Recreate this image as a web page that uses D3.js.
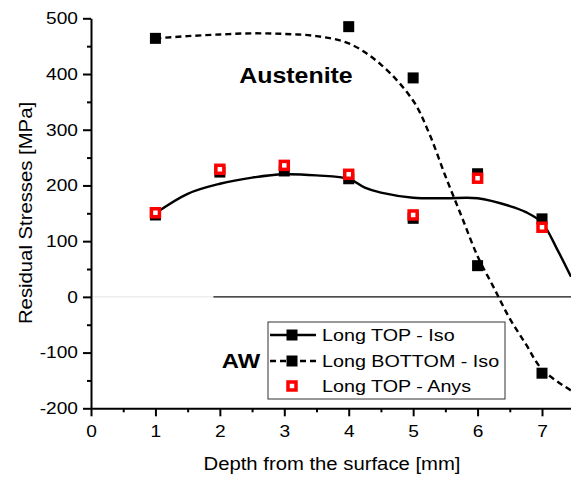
<!DOCTYPE html>
<html>
<head>
<meta charset="utf-8">
<script src="https://cdn.jsdelivr.net/npm/d3@7"></script>
<style>
  html, body { margin: 0; padding: 0; background: #fff; }
  svg { display: block; }
  text { font-family: "Liberation Sans", Arial, sans-serif; fill: #000; }
</style>
</head>
<body>
<svg id="chart" width="571" height="477"></svg>
<script>
// ---- data ----
const depths = [1, 2, 3, 4, 5, 6, 7];
const topIso = [147, 224, 226, 212, 141, 221, 140];
const bottomIso = [464, null, null, 485, 393, 56, -137];
const topAnys = [151, 229, 236, 220, 147, 213, 125];

// smoothed fit curves
const topFitDepth = [1, 1.5, 2, 2.5, 3, 3.5, 4, 4.25, 4.5, 5, 5.5, 6, 6.5, 6.75, 7, 7.25, 7.45];
const topFitValue = [150, 185, 203, 214, 220, 218, 212, 196, 187, 178, 177, 177, 163, 152, 133, 82, 36];
const botFitDepth = [1, 1.5, 2, 2.5, 3, 3.5, 4, 4.5, 5, 5.25, 5.5, 5.75, 6, 6.25, 6.5, 6.75, 7, 7.45];
const botFitValue = [464, 468, 471, 473, 472, 468, 455, 417, 352, 293, 217, 145, 73, 17, -39, -85, -130, -168];

const xTicks = [0, 1, 2, 3, 4, 5, 6, 7];
const xMinorTicks = [0.5, 1.5, 2.5, 3.5, 4.5, 5.5, 6.5, 7.5];
const yTicks = [-200, -100, 0, 100, 200, 300, 400, 500];
const yMinorTicks = [-150, -50, 50, 150, 250, 350, 450];
const legendLabels = ["Long TOP - Iso", "Long BOTTOM - Iso", "Long TOP - Anys"];
const xTitle = "Depth from the surface [mm]";
const yTitle = "Residual Stresses [MPa]";
const annotations = [{text: "Austenite", depth: 2.3, value: 383}, {text: "AW", depth: 2.03, value: -127}];

// ---- layout ----
const SX = 1.16; // horizontal stretch of the lettering
const svg = d3.select("#chart");
const x = d3.scaleLinear().domain([0, 7.45]).range([91, 571]);
const y = d3.scaleLinear().domain([-200, 500]).range([408.3, 18.3]);

function label(g, px, py, str, size, anchor, weight, rotate) {
  const t = g.append("text")
    .attr("transform", `translate(${px},${py})` + (rotate ? ` rotate(${rotate})` : "") + ` scale(${SX},1)`)
    .attr("text-anchor", anchor || "start")
    .style("font-size", size + "px")
    .style("font-weight", weight || "normal")
    .text(str);
  return t;
}

// zero reference line
svg.append("line")
  .attr("x1", x(0)).attr("x2", x(1.9)).attr("y1", y(0)).attr("y2", y(0))
  .attr("stroke", "#e4e4e4").attr("stroke-width", 1);
svg.append("line")
  .attr("x1", x(1.9)).attr("x2", x(7.45)).attr("y1", y(0)).attr("y2", y(0))
  .attr("stroke", "#111").attr("stroke-width", 1.2);

// axes
const yAxis = svg.append("g").attr("transform", `translate(${x(0)},0)`)
  .call(d3.axisLeft(y).tickValues(yTicks).tickSize(8).tickSizeOuter(0).tickPadding(5).tickFormat(d => String(d)));
const yMinor = svg.append("g").attr("transform", `translate(${x(0)},0)`)
  .call(d3.axisLeft(y).tickValues(yMinorTicks).tickSize(4).tickSizeOuter(0).tickFormat(""));
const xAxis = svg.append("g").attr("transform", `translate(0,${y(-200)})`)
  .call(d3.axisBottom(x).tickValues(xTicks).tickSize(8).tickSizeOuter(0).tickPadding(9).tickFormat(d => String(d)));
const xMinor = svg.append("g").attr("transform", `translate(0,${y(-200)})`)
  .call(d3.axisBottom(x).tickValues(xMinorTicks.filter(v => v <= 7.45)).tickSize(4).tickSizeOuter(0).tickFormat(""));

[yAxis, yMinor, xAxis, xMinor].forEach(g => {
  g.select(".domain").attr("stroke", "#000").attr("stroke-width", 2);
  g.selectAll(".tick line").attr("stroke", "#000").attr("stroke-width", 2);
});
yMinor.select(".domain").remove();
xMinor.select(".domain").remove();
yAxis.selectAll(".tick text")
  .style("font-size", "16.5px").style("font-family", "Liberation Sans, Arial, sans-serif").attr("fill", "#000")
  .attr("x", -13 / SX).attr("transform", `scale(${SX},1)`);
xAxis.selectAll(".tick text")
  .style("font-size", "16.5px").style("font-family", "Liberation Sans, Arial, sans-serif").attr("fill", "#000")
  .attr("transform", `scale(${SX},1)`)
  .attr("x", function () { return 0; });

// axis titles
label(svg, 332, 470, xTitle, 17.5, "middle");
label(svg, 32, 213, yTitle, 17.5, "middle", "normal", -90);

// fitted curves
const line = d3.line().x(d => x(d[0])).y(d => y(d[1])).curve(d3.curveCatmullRom.alpha(0.5));
svg.append("path")
  .datum(botFitDepth.map((d, i) => [d, botFitValue[i]]))
  .attr("d", line).attr("fill", "none").attr("stroke", "#000")
  .attr("stroke-width", 2.4).attr("stroke-dasharray", "6,4");
svg.append("path")
  .datum(topFitDepth.map((d, i) => [d, topFitValue[i]]))
  .attr("d", line).attr("fill", "none").attr("stroke", "#000").attr("stroke-width", 2.4);

// markers
const S = 11;
svg.append("g").selectAll("rect")
  .data(depths.map((d, i) => [d, bottomIso[i]]).filter(d => d[1] !== null))
  .join("rect")
  .attr("x", d => x(d[0]) - S / 2).attr("y", d => y(d[1]) - S / 2)
  .attr("width", S).attr("height", S).attr("fill", "#000");
svg.append("g").selectAll("rect")
  .data(depths.map((d, i) => [d, topIso[i]]))
  .join("rect")
  .attr("x", d => x(d[0]) - S / 2).attr("y", d => y(d[1]) - S / 2)
  .attr("width", S).attr("height", S).attr("fill", "#000");
const R = 8;
svg.append("g").selectAll("rect")
  .data(depths.map((d, i) => [d, topAnys[i]]))
  .join("rect")
  .attr("x", d => x(d[0]) - R / 2).attr("y", d => y(d[1]) - R / 2)
  .attr("width", R).attr("height", R).attr("fill", "#fff")
  .attr("stroke", "#f00").attr("stroke-width", 3.5);

// annotations
annotations.forEach(a => {
  label(svg, x(a.depth), y(a.value), a.text, a.text === "AW" ? 20.5 : 21.5, "start", "bold");
});

// legend
const lg = svg.append("g");
lg.append("rect").attr("x", 268).attr("y", 322).attr("width", 237).attr("height", 77)
  .attr("fill", "#fff").attr("stroke", "#333").attr("stroke-width", 1);
const rowY = [335, 361, 386];
legendLabels.forEach((txt, i) => {
  const cy = rowY[i];
  if (i < 2) {
    lg.append("line").attr("x1", 270).attr("x2", 316).attr("y1", cy).attr("y2", cy)
      .attr("stroke", "#000").attr("stroke-width", 2.4)
      .attr("stroke-dasharray", i === 1 ? "6,4" : null);
    lg.append("rect").attr("x", 292 - S / 2).attr("y", cy - S / 2).attr("width", S).attr("height", S).attr("fill", "#000");
  } else {
    lg.append("rect").attr("x", 292 - R / 2).attr("y", cy - R / 2).attr("width", R).attr("height", R)
      .attr("fill", "#fff").attr("stroke", "#f00").attr("stroke-width", 3.5);
  }
  label(lg, 322, cy + 6, txt, 17, "start");
});
</script>
</body>
</html>
